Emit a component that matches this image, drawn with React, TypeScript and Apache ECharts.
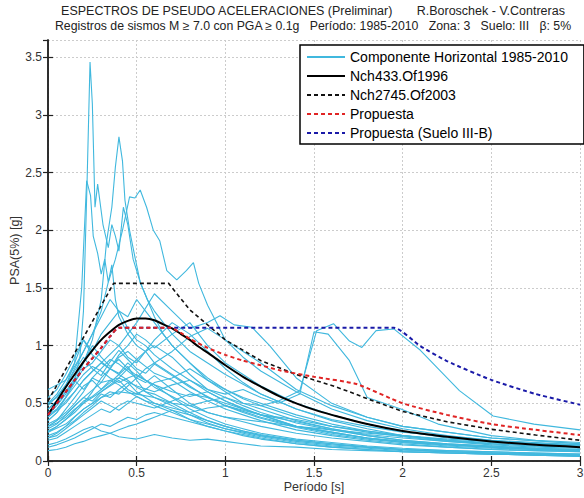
import React, { useEffect, useRef } from "react";
import * as echarts from "echarts";

const FONT = "'Liberation Sans', Arial, sans-serif";
const LEGEND_NAMES = [
  "Componente Horizontal 1985-2010",
  "Nch433.Of1996",
  "Nch2745.Of2003",
  "Propuesta",
  "Propuesta (Suelo III-B)",
];
const TITLE_1 = "ESPECTROS DE PSEUDO ACELERACIONES (Preliminar)\u00a0\u00a0\u00a0\u00a0\u00a0\u00a0\u00a0R.Boroschek - V.Contreras";
const TITLE_2 = "Registros de sismos M \u2265 7.0 con PGA \u2265 0.1g\u00a0\u00a0\u00a0Período: 1985-2010\u00a0\u00a0\u00a0Zona: 3\u00a0\u00a0\u00a0Suelo: III\u00a0\u00a0\u00a0\u03b2: 5%";
const X_NAME = "Período [s]";
const Y_NAME = "PSA(5%) [g]";

// common period grid for most records
const periodGrid = [0, 0.05, 0.1, 0.15, 0.2, 0.25, 0.3, 0.35, 0.4, 0.45, 0.5, 0.55, 0.6, 0.7, 0.8, 0.9, 1.0, 1.1, 1.2, 1.4, 1.6, 1.8, 2.0, 2.25, 2.5, 2.75, 3.0];

const c1 = [0.09,0.10,0.12,0.15,0.17,0.20,0.22,0.24,0.21,0.20,0.19,0.21,0.23,0.20,0.18,0.19,0.17,0.15,0.13,0.12,0.10,0.09,0.08,0.07,0.06,0.05,0.05];
const c2 = [0.14,0.16,0.19,0.23,0.27,0.30,0.26,0.24,0.27,0.30,0.32,0.35,0.38,0.44,0.40,0.33,0.28,0.25,0.22,0.18,0.15,0.12,0.10,0.08,0.07,0.06,0.05];
const c3 = [0.20,0.24,0.30,0.38,0.45,0.50,0.58,0.55,0.62,0.68,0.60,0.55,0.50,0.44,0.36,0.30,0.26,0.23,0.20,0.15,0.12,0.10,0.08,0.07,0.06,0.05,0.04];
const c4 = [0.25,0.30,0.36,0.42,0.50,0.60,0.72,0.80,0.76,0.85,0.78,0.70,0.66,0.55,0.45,0.38,0.32,0.28,0.24,0.19,0.16,0.13,0.11,0.09,0.08,0.07,0.06];
const c5 = [0.30,0.35,0.45,0.55,0.65,0.70,0.62,0.68,0.75,0.70,0.64,0.60,0.58,0.50,0.42,0.35,0.30,0.26,0.22,0.17,0.14,0.12,0.10,0.08,0.07,0.06,0.05];
const c6 = [0.35,0.42,0.52,0.60,0.70,0.78,0.85,0.80,0.90,0.95,0.88,0.82,0.76,0.70,0.60,0.52,0.45,0.40,0.35,0.27,0.22,0.18,0.15,0.12,0.10,0.09,0.08];
const c7 = [0.40,0.48,0.58,0.70,0.62,0.72,0.80,0.88,0.84,0.78,0.72,0.68,0.74,0.62,0.50,0.42,0.38,0.34,0.30,0.24,0.20,0.17,0.14,0.12,0.10,0.09,0.08];
const c8 = [0.45,0.52,0.60,0.68,0.80,0.85,0.95,1.05,1.00,0.90,0.85,0.95,1.00,0.90,0.75,0.62,0.55,0.48,0.42,0.33,0.27,0.22,0.18,0.15,0.13,0.11,0.10];
const c9 = [0.55,0.62,0.75,0.90,1.05,0.95,1.10,1.20,1.30,1.15,1.05,1.00,0.92,0.80,0.70,0.60,0.52,0.45,0.40,0.30,0.24,0.20,0.16,0.14,0.12,0.10,0.09];
const c10 = [0.62,0.66,0.70,0.85,1.05,0.92,0.86,0.80,0.75,0.82,0.70,0.60,0.55,0.48,0.40,0.35,0.30,0.26,0.23,0.18,0.15,0.12,0.10,0.09,0.08,0.07,0.06];
const c11 = [0.30,0.33,0.38,0.45,0.50,0.55,0.60,0.66,0.72,0.80,0.88,0.95,1.05,1.20,1.10,0.95,0.80,0.68,0.58,0.45,0.35,0.28,0.22,0.18,0.15,0.13,0.12];
const c12 = [0.22,0.25,0.30,0.35,0.42,0.48,0.55,0.60,0.58,0.65,0.72,0.80,0.85,0.95,1.08,1.15,1.05,0.90,0.78,0.60,0.45,0.35,0.28,0.22,0.18,0.15,0.13];
const c13 = [0.28,0.32,0.40,0.48,0.55,0.52,0.60,0.65,0.70,0.62,0.58,0.62,0.68,0.72,0.80,0.70,0.62,0.55,0.50,0.40,0.32,0.26,0.22,0.18,0.15,0.13,0.12];
const c14 = [0.18,0.20,0.25,0.30,0.35,0.40,0.45,0.42,0.48,0.52,0.50,0.48,0.46,0.52,0.58,0.55,0.50,0.45,0.40,0.34,0.28,0.23,0.20,0.17,0.15,0.13,0.12];
const c15 = [0.38,0.45,0.55,0.65,0.75,0.82,0.78,0.72,0.68,0.72,0.75,0.70,0.66,0.60,0.56,0.60,0.52,0.46,0.40,0.30,0.25,0.20,0.17,0.14,0.12,0.10,0.09];
const c16 = [0.50,0.55,0.65,0.80,0.95,1.10,1.25,1.40,1.30,1.25,1.40,1.30,1.20,1.00,0.85,0.70,0.60,0.50,0.45,0.35,0.28,0.22,0.18,0.15,0.13,0.11,0.10];
const c17 = [0.32,0.36,0.42,0.50,0.60,0.72,0.68,0.80,0.92,1.00,1.10,1.05,0.98,1.10,1.20,1.00,0.85,0.75,0.65,0.50,0.40,0.32,0.26,0.20,0.17,0.15,0.14];
const c18 = [0.26,0.30,0.36,0.44,0.52,0.56,0.62,0.70,0.66,0.60,0.56,0.52,0.50,0.46,0.42,0.46,0.48,0.44,0.40,0.36,0.30,0.26,0.22,0.18,0.16,0.15,0.14];
const c19 = [0.42,0.50,0.60,0.72,0.86,1.00,0.90,0.82,0.88,0.80,0.74,0.70,0.64,0.56,0.48,0.42,0.38,0.36,0.34,0.30,0.27,0.24,0.22,0.19,0.17,0.15,0.14];
const c20 = [0.12,0.14,0.17,0.20,0.24,0.28,0.32,0.30,0.34,0.38,0.36,0.40,0.42,0.38,0.34,0.30,0.26,0.22,0.19,0.15,0.12,0.10,0.08,0.07,0.06,0.05,0.04];
const c21 = [0.20,0.22,0.28,0.34,0.40,0.46,0.52,0.48,0.44,0.50,0.56,0.52,0.48,0.42,0.36,0.32,0.28,0.24,0.21,0.16,0.13,0.11,0.09,0.08,0.07,0.06,0.05];
const c22 = [0.48,0.56,0.66,0.78,0.90,0.80,0.74,0.86,0.96,0.88,0.80,0.76,0.84,0.74,0.64,0.56,0.48,0.42,0.37,0.29,0.23,0.19,0.16,0.13,0.11,0.10,0.09];

// records with their own period samples
const tA = [0,0.05,0.1,0.15,0.18,0.2,0.22,0.237,0.25,0.265,0.28,0.31,0.34,0.36,0.38,0.40,0.425,0.45,0.48,0.52,0.56,0.6,0.65,0.7,0.8,0.9,1.0,1.1,1.2,1.4,1.6,1.8,2.0,2.25,2.5,2.75,3.0];
const vA = [0.35,0.42,0.55,0.70,0.90,1.30,2.40,3.46,3.10,2.20,2.40,2.05,1.85,2.05,1.95,1.82,2.20,2.05,1.75,1.55,1.40,1.25,1.10,1.00,0.85,0.72,0.62,0.54,0.48,0.38,0.30,0.25,0.21,0.17,0.14,0.12,0.11];
const tB = [0,0.05,0.1,0.15,0.19,0.218,0.24,0.255,0.28,0.30,0.32,0.34,0.36,0.38,0.4,0.45,0.5,0.55,0.6,0.7,0.8,0.9,1.0,1.2,1.4,1.6,1.8,2.0,2.5,3.0];
const vB = [0.45,0.52,0.65,0.85,1.50,2.43,2.30,1.95,1.80,1.62,1.75,1.55,1.70,1.40,1.25,1.10,1.00,0.95,0.85,0.75,0.65,0.55,0.48,0.38,0.30,0.25,0.20,0.17,0.12,0.09];
const tC = [0,0.05,0.1,0.15,0.2,0.25,0.3,0.33,0.36,0.38,0.40,0.42,0.434,0.46,0.49,0.52,0.56,0.6,0.65,0.7,0.8,0.9,1.0,1.2,1.4,1.6,1.8,2.0,2.5,3.0];
const vC = [0.40,0.45,0.55,0.68,0.85,1.05,1.40,1.90,2.20,2.55,2.81,2.60,2.26,2.00,1.77,1.55,1.40,1.30,1.20,1.10,0.95,0.85,0.75,0.58,0.45,0.36,0.30,0.25,0.18,0.14];
const tD = [0,0.05,0.1,0.15,0.2,0.25,0.3,0.34,0.38,0.42,0.46,0.49,0.52,0.556,0.594,0.63,0.67,0.726,0.78,0.82,0.85,0.9,0.95,1.0,1.1,1.2,1.4,1.6,1.8,2.0,2.5,3.0];
const vD = [0.50,0.58,0.70,0.82,0.95,1.10,1.30,1.55,1.75,2.00,2.29,2.28,2.35,2.20,2.00,1.91,1.65,1.57,1.65,1.72,1.54,1.35,1.20,1.05,0.95,0.85,0.62,0.48,0.38,0.30,0.20,0.15];
const tE = [0,0.1,0.2,0.3,0.4,0.5,0.6,0.7,0.8,0.9,1.0,1.1,1.2,1.3,1.42,1.515,1.61,1.70,1.77,1.85,1.95,2.1,2.32,2.51,2.74,3.0];
const vE = [0.25,0.32,0.45,0.55,0.60,0.58,0.55,0.50,0.48,0.52,0.55,0.50,0.48,0.52,0.61,1.13,1.19,1.04,0.985,1.13,1.145,0.96,0.61,0.39,0.32,0.27];
const tF = [0,0.1,0.2,0.3,0.4,0.5,0.6,0.7,0.8,0.9,1.0,1.1,1.2,1.3,1.42,1.5,1.58,1.70,1.80,1.99,2.2,2.5,2.75,3.0];
const vF = [0.30,0.40,0.55,0.68,0.72,0.65,0.60,0.66,0.70,0.62,0.58,0.62,0.55,0.50,0.58,1.12,1.10,0.87,0.55,0.45,0.32,0.22,0.18,0.16];
const tG = [0,0.1,0.2,0.3,0.4,0.5,0.6,0.7,0.8,0.9,0.97,1.05,1.15,1.25,1.4,1.6,1.8,2.0,2.5,3.0];
const vG = [0.38,0.50,0.70,0.85,1.00,1.20,1.45,1.30,1.15,1.20,1.26,1.18,1.16,1.00,0.72,0.50,0.38,0.30,0.20,0.15];

// code spectra
const tNch433 = [0,0.05,0.1,0.15,0.2,0.25,0.3,0.35,0.4,0.45,0.5,0.55,0.6,0.65,0.7,0.75,0.8,0.85,0.9,0.95,1.0,1.1,1.2,1.3,1.4,1.5,1.6,1.8,2.0,2.25,2.5,2.75,3.0];
const vNch433 = [0.40,0.52,0.64,0.75,0.86,0.96,1.05,1.12,1.18,1.215,1.235,1.235,1.22,1.185,1.15,1.10,1.05,0.99,0.94,0.885,0.83,0.73,0.645,0.565,0.50,0.445,0.40,0.32,0.26,0.21,0.17,0.14,0.12];
const tNch2745 = [0,0.37,0.68,0.8,1.0,1.2,1.4,1.6,1.7,1.8,2.0,2.25,2.5,2.75,3.0];
const vNch2745 = [0.52,1.54,1.54,1.31,1.05,0.87,0.75,0.655,0.60,0.54,0.43,0.34,0.275,0.225,0.18];
const tProp = [0,0.05,0.1,0.15,0.2,0.25,0.3,0.35,0.4,0.69,0.75,0.8,0.9,1.0,1.1,1.2,1.31,1.5,1.74,2.0,2.25,2.5,2.75,3.0];
const vProp = [0.40,0.50,0.60,0.70,0.80,0.89,0.98,1.08,1.155,1.155,1.11,1.06,0.98,0.92,0.87,0.83,0.785,0.73,0.667,0.50,0.40,0.32,0.27,0.225];
const tPropB = [0,0.05,0.1,0.15,0.2,0.25,0.3,0.35,0.4,1.95,2.1,2.25,2.5,2.75,3.0];
const vPropB = [0.40,0.50,0.60,0.70,0.80,0.89,0.98,1.08,1.155,1.155,0.996,0.866,0.703,0.581,0.488];

const gridCurves = [c1, c2, c3, c4, c5, c6, c7, c8, c9, c10, c11, c12, c13, c14, c15, c16, c17, c18, c19, c20, c21, c22];
const ownCurves: [number[], number[]][] = [[tA, vA], [tB, vB], [tC, vC], [tD, vD], [tE, vE], [tF, vF], [tG, vG]];

const CYAN = "#40b8de";
const pairs = (t: number[], v: number[]) => t.map((x, i) => [x, v[i]]);

export default function App() {
  const ref = useRef<HTMLDivElement>(null);
  useEffect(() => {
    if (!ref.current) return;
    const chart = echarts.init(ref.current, undefined, { renderer: "svg" });
    const cyanStyle = (data: number[][]) => ({
      name: LEGEND_NAMES[0],
      type: "line",
      data,
      symbol: "none",
      silent: true,
      z: 2,
      lineStyle: { color: CYAN, width: 1.1 },
      itemStyle: { color: CYAN },
    });
    const series: any[] = [
      ...gridCurves.map((v) => cyanStyle(pairs(periodGrid, v))),
      ...ownCurves.map(([t, v]) => cyanStyle(pairs(t, v))),
      {
        name: LEGEND_NAMES[1], type: "line", data: pairs(tNch433, vNch433), symbol: "none", smooth: 0.3, z: 5,
        lineStyle: { color: "#000", width: 2 }, itemStyle: { color: "#000" },
      },
      {
        name: LEGEND_NAMES[2], type: "line", data: pairs(tNch2745, vNch2745), symbol: "none", z: 5,
        lineStyle: { color: "#111", width: 1.6, type: [4, 3] }, itemStyle: { color: "#111" },
      },
      {
        name: LEGEND_NAMES[4], type: "line", data: pairs(tPropB, vPropB), symbol: "none", z: 5, smooth: 0.2,
        lineStyle: { color: "#1a1aa8", width: 2, type: [4, 3] }, itemStyle: { color: "#1a1aa8" },
      },
      {
        name: LEGEND_NAMES[3], type: "line", data: pairs(tProp, vProp), symbol: "none", z: 6, smooth: 0.2,
        lineStyle: { color: "#e02424", width: 2, type: [4, 3] }, itemStyle: { color: "#e02424" },
      },
    ];
    const axisLine = { show: true, lineStyle: { color: "#222", width: 1.5 } };
    const tick = { show: true, inside: true, length: 5, lineStyle: { color: "#222", width: 1.2 } };
    const split = { show: true, lineStyle: { color: "#cccccc", width: 1, type: [2, 2] } };
    const label = { color: "#333", fontSize: 12, fontFamily: FONT };
    chart.setOption({
      animation: false,
      backgroundColor: "#fff",
      textStyle: { fontFamily: FONT },
      grid: { left: 48, right: 4, top: 40, bottom: 37, show: false, containLabel: false, outerBoundsMode: "none" },
      graphic: [
        { type: "text", x: 313, y: 4, style: { text: TITLE_1, font: `12.5px ${FONT}`, fill: "#222", textAlign: "center", textVerticalAlign: "top" } },
        { type: "text", x: 313, y: 20, style: { text: TITLE_2, font: `12.3px ${FONT}`, fill: "#222", textAlign: "center", textVerticalAlign: "top" } },
      ],
      legend: {
        data: LEGEND_NAMES,
        orient: "vertical",
        left: 300,
        top: 45,
        itemWidth: 38,
        itemHeight: 14,
        itemGap: 5,
        padding: [5, 16, 4, 6],
        backgroundColor: "#fff",
        borderColor: "#000",
        borderWidth: 1.5,
        selectedMode: false,
        itemStyle: { opacity: 0 },
        textStyle: { fontSize: 14, color: "#000", fontFamily: FONT },
      },
      xAxis: [
        {
          type: "value", min: 0, max: 3, interval: 0.5, position: "bottom",
          axisLine, axisTick: tick, splitLine: split,
          axisLabel: { ...label, margin: 6 },
          name: X_NAME, nameLocation: "middle", nameGap: 19, nameMoveOverlap: false,
          nameTextStyle: { color: "#333", fontSize: 12.5, fontFamily: FONT },
        },
        {
          type: "value", min: 0, max: 3, interval: 0.5, position: "top",
          axisLine, axisTick: tick, splitLine: { show: false }, axisLabel: { show: false },
        },
      ],
      yAxis: [
        {
          type: "value", min: 0, max: 3.65, interval: 0.5, position: "left",
          axisLine, axisTick: tick, splitLine: split,
          axisLabel: { ...label, margin: 6, showMaxLabel: false },
          name: Y_NAME, nameLocation: "middle", nameGap: 27, nameMoveOverlap: false,
          nameTextStyle: { color: "#333", fontSize: 12.5, fontFamily: FONT },
        },
        {
          type: "value", min: 0, max: 3.65, interval: 0.5, position: "right",
          axisLine, axisTick: tick, splitLine: { show: false }, axisLabel: { show: false },
        },
      ],
      series,
    });
    return () => chart.dispose();
  }, []);
  return <div ref={ref} style={{ position: "absolute", left: 0, top: 0, width: 584, height: 498 }} />;
}
